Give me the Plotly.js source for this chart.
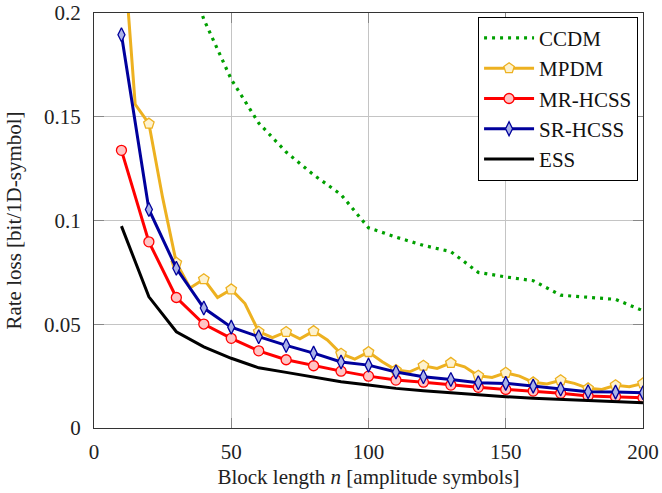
<!DOCTYPE html>
<html><head><meta charset="utf-8">
<script src="https://cdn.plot.ly/plotly-3.0.1.min.js"></script>
<style>html,body{margin:0;padding:0;background:#fff}</style>
</head><body><div id="chart" style="width:662px;height:493px"></div>
<script>
// Block lengths n (amplitude symbols)
const blockLen = [10,20,30,40,50,60,70,80,90,100,110,120,130,140,150,160,170,180,190,200];
const mrHcss = [0.1338,0.0897,0.0629,0.0501,0.0432,0.0372,0.0329,0.0300,0.0274,0.0250,0.0231,0.0221,0.0207,0.0196,0.0186,0.0178,0.0167,0.0154,0.0151,0.0146];
const srHcss = [0.1895,0.1053,0.0770,0.0578,0.0486,0.0440,0.0398,0.0361,0.0318,0.0303,0.0270,0.0247,0.0234,0.0218,0.0215,0.0202,0.0188,0.0175,0.0173,0.0170];
const ess    = [0.0973,0.0632,0.0464,0.0391,0.0336,0.0290,0.0268,0.0247,0.0223,0.0207,0.0191,0.0180,0.0170,0.0159,0.0151,0.0143,0.0138,0.0132,0.0127,0.0122];
const mpdmN  = [10,15,20,25,30,35,40,45,50,55,60,65,70,75,80,85,90,95,100,105,110,115,120,125,130,135,140,145,150,155,160,165,170,175,180,185,190,195,200];
const mpdm   = [0.245,0.156,0.1467,0.111,0.0796,0.0675,0.0717,0.0629,0.0668,0.0600,0.0464,0.0435,0.0463,0.0430,0.0467,0.0424,0.0358,0.0332,0.0366,0.0319,0.0279,0.0271,0.0300,0.0287,0.0314,0.0295,0.0252,0.0244,0.0266,0.0250,0.0220,0.0212,0.0230,0.0215,0.0191,0.0186,0.0206,0.0199,0.0215];
const ccdmN  = [30,40,50,60,70,80,90,100,110,120,130,140,150,160,170,180,190,200];
const ccdm   = [0.235,0.197,0.168,0.147,0.133,0.122,0.1125,0.0965,0.092,0.088,0.085,0.075,0.0728,0.0710,0.0640,0.0630,0.0620,0.0565];
const seriesNames = ['CCDM','MPDM','MR-HCSS','SR-HCSS','ESS'];
const xTicks = [0,50,100,150,200];
const yTicks = [0,0.05,0.1,0.15,0.2];

const FONT = 'Liberation Serif, Times New Roman, serif';
const FS = 21;
const gold = '#EDB120';

// MPDM markers only on every 10th block length
const mpdmMarked = mpdm.map((v,i) => (mpdmN[i] % 10 === 0 ? v : null));

const traces = [
  {x: ccdmN, y: ccdm, name: seriesNames[0], mode: 'lines',
   line: {color: '#00a000', width: 3.2, dash: '3px,5px'}},
  {x: mpdmN, y: mpdm, name: seriesNames[1], mode: 'lines', showlegend: false,
   line: {color: gold, width: 3}, hoverinfo: 'skip'},
  {x: mpdmN, y: mpdmMarked, name: seriesNames[1], mode: 'lines+markers',
   line: {color: gold, width: 3},
   marker: {symbol: 'pentagon', size: 11, color: '#fdf2cf', line: {color: gold, width: 1.3}}},
  {x: blockLen, y: mrHcss, name: seriesNames[2], mode: 'lines+markers',
   line: {color: '#ff0000', width: 3},
   marker: {symbol: 'circle', size: 10, color: '#ffc4c4', line: {color: '#ff0000', width: 1.3}}},
  {x: blockLen, y: srHcss, name: seriesNames[3], mode: 'lines+markers',
   line: {color: '#00009c', width: 3},
   marker: {symbol: 'diamond-tall', size: 10, color: '#aab2e8', line: {color: '#00009c', width: 1.3}}},
  {x: blockLen, y: ess, name: seriesNames[4], mode: 'lines',
   line: {color: '#000000', width: 3}}
];

const axisCommon = {
  showline: true, linecolor: '#333', linewidth: 1, mirror: 'ticks',
  ticks: 'inside', ticklen: 10, tickwidth: 1.2, tickcolor: '#888',
  showgrid: true, gridcolor: '#c4c4c4', gridwidth: 1, zeroline: false,
  tickfont: {family: FONT, size: FS, color: '#222'}
};

const layout = {
  width: 662, height: 493,
  margin: {l: 94, r: 19, t: 13, b: 65},
  paper_bgcolor: '#fff', plot_bgcolor: '#fff',
  font: {family: FONT, size: FS, color: '#222'},
  xaxis: Object.assign({}, axisCommon, {
    range: [0, 200], tickvals: xTicks, ticktext: xTicks.map(String),
    ticklabelstandoff: 5,
    title: {text: 'Block length <i>n</i> [amplitude symbols]', font: {family: FONT, size: FS, color: '#222'}, standoff: 6}
  }),
  yaxis: Object.assign({}, axisCommon, {
    range: [0, 0.2], tickvals: yTicks, ticktext: yTicks.map(String),
    ticklabelstandoff: 8,
    title: {text: 'Rate loss [bit/1D-symbol]', font: {family: FONT, size: FS, color: '#222'}, standoff: 16}
  }),
  legend: {
    x: 0.991, y: 0.991, xanchor: 'right', yanchor: 'top',
    bgcolor: '#fff', bordercolor: '#000', borderwidth: 1,
    font: {family: FONT, size: FS, color: '#111'},
    itemwidth: 50, tracegroupgap: 0
  },
  showlegend: true
};

Plotly.newPlot('chart', traces, layout, {staticPlot: true, displayModeBar: false});
</script>
</body></html>
